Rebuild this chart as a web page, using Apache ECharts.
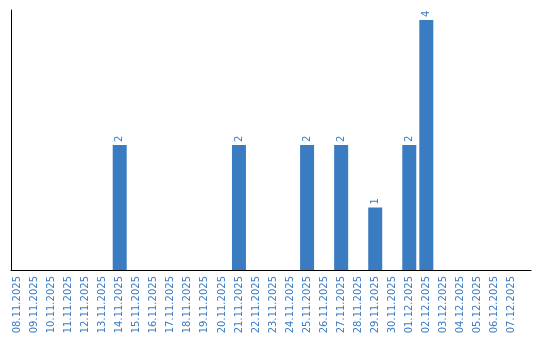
<!DOCTYPE html>
<html>
<head>
<meta charset="utf-8">
<script src="https://cdn.jsdelivr.net/npm/echarts@6/dist/echarts.min.js"></script>
<style>html,body{margin:0;padding:0;background:#fff}#c{width:540px;height:340px}</style>
</head>
<body>
<div id="c"></div>
<script>
const categories = ["08.11.2025","09.11.2025","10.11.2025","11.11.2025","12.11.2025","13.11.2025","14.11.2025","15.11.2025","16.11.2025","17.11.2025","18.11.2025","19.11.2025","20.11.2025","21.11.2025","22.11.2025","23.11.2025","24.11.2025","25.11.2025","26.11.2025","27.11.2025","28.11.2025","29.11.2025","30.11.2025","01.12.2025","02.12.2025","03.12.2025","04.12.2025","05.12.2025","06.12.2025","07.12.2025"];
const counts = [0,0,0,0,0,0,2,0,0,0,0,0,0,2,0,0,0,2,0,2,0,1,0,2,4,0,0,0,0,0];

const blue = '#3a7cc2';
const chart = echarts.init(document.getElementById('c'), null, {renderer:'canvas'});
chart.setOption({
  animation: false,
  grid: [
    {left: 9, right: 20, top: 10, bottom: 70},
    {left: 11, right: 9, top: 10, bottom: 70}
  ],
  xAxis: [
    {
      type: 'category', data: categories, gridIndex: 0,
      axisLine: {show: false},
      axisTick: {show: false},
      axisLabel: {rotate: 90, color: blue, fontFamily: 'DejaVu Sans', fontSize: 10, margin: 6, interval: 0}
    },
    {
      type: 'value', gridIndex: 1, min: 0, max: 1,
      axisLine: {show: true, onZero: false, lineStyle: {color: '#000', width: 1}},
      axisTick: {show: false}, axisLabel: {show: false}, splitLine: {show: false}
    }
  ],
  yAxis: [
    {
      type: 'value', gridIndex: 0, min: 0, max: 4.16,
      axisLine: {show: false}, axisTick: {show: false}, axisLabel: {show: false}, splitLine: {show: false}
    },
    {
      type: 'value', gridIndex: 1, min: 0, max: 1,
      axisLine: {show: true, lineStyle: {color: '#000', width: 1}},
      axisTick: {show: false}, axisLabel: {show: false}, splitLine: {show: false}
    }
  ],
  series: [{
    type: 'bar', xAxisIndex: 0, yAxisIndex: 0,
    data: counts.map(v => v === 0 ? null : v),
    barWidth: 14,
    itemStyle: {color: blue},
    label: {
      show: true, position: 'top', rotate: 90, align: 'left', verticalAlign: 'middle',
      distance: 3, color: blue, fontFamily: 'DejaVu Sans', fontSize: 10
    }
  }]
});
</script>
</body>
</html>
